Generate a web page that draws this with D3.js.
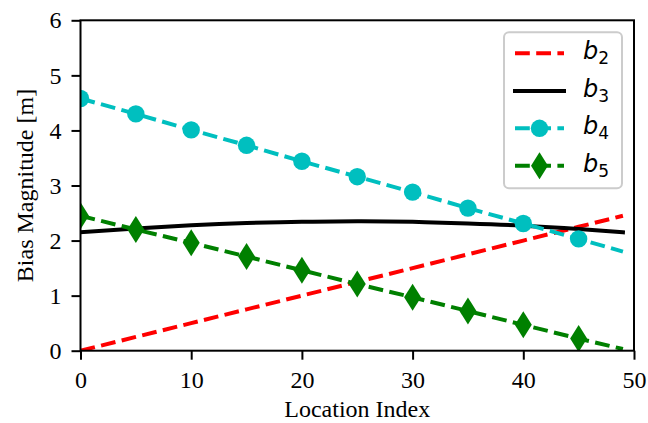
<!DOCTYPE html>
<html>
<head>
<meta charset="utf-8">
<script src="https://cdn.jsdelivr.net/npm/d3@7"></script>
<style>
  html, body { margin: 0; padding: 0; background: #fff; }
  svg { display: block; }
</style>
</head>
<body>
<div id="chart"></div>
<script>
// ---- Data ----
const xAll = [0, 5, 10, 15, 20, 25, 30, 35, 40, 45, 49];
const b2 = [0.00, 0.25, 0.50, 0.75, 1.00, 1.25, 1.50, 1.75, 2.00, 2.25, 2.45];
const b3 = [2.15, 2.22, 2.28, 2.32, 2.34, 2.35, 2.34, 2.31, 2.27, 2.21, 2.15];
const b4 = [4.58, 4.30, 4.01, 3.73, 3.44, 3.16, 2.88, 2.59, 2.31, 2.03, 1.80];
const b5 = [2.45, 2.20, 1.96, 1.71, 1.46, 1.21, 0.97, 0.72, 0.47, 0.22, 0.03];
const markerX = [0, 5, 10, 15, 20, 25, 30, 35, 40, 45];
const xTicks = [0, 10, 20, 30, 40, 50];
const yTicks = [0, 1, 2, 3, 4, 5, 6];
const seriesNames = ["2", "3", "4", "5"];
const xLabel = "Location Index";
const yLabel = "Bias Magnitude [m]";

// ---- Layout ----
const W = 648, H = 423;
const L = 80.5, R = 634, T = 20.3, B = 350.7;
const serif = "'Liberation Serif', 'Times New Roman', serif";
const fs = 24;

const svg = d3.select("#chart").append("svg").attr("width", W).attr("height", H);
const x = d3.scaleLinear().domain([0, 50]).range([L, R]);
const y = d3.scaleLinear().domain([0, 6]).range([B, T]);

svg.append("defs").append("clipPath").attr("id", "clip")
  .append("rect").attr("x", L).attr("y", T).attr("width", R - L).attr("height", B - T);

const plot = svg.append("g").attr("clip-path", "url(#clip)");
const dash = "14.8,6.4";
const lw = 4;

const series = [
  { vals: b2, color: "#ff0000", dash: dash, marker: null, curve: d3.curveLinear },
  { vals: b3, color: "#000000", dash: null, marker: null, curve: d3.curveNatural },
  { vals: b4, color: "#00bfbf", dash: dash, marker: "o", curve: d3.curveLinear },
  { vals: b5, color: "#008000", dash: dash, marker: "d", curve: d3.curveLinear }
];

const circR = 8.7;
const dH = 13.5, dW = 8.5;
function drawMarker(g, type, cx, cy, color) {
  if (type === "o") {
    g.append("circle").attr("cx", cx).attr("cy", cy).attr("r", circR).attr("fill", color);
  } else if (type === "d") {
    g.append("path")
      .attr("d", `M${cx},${cy - dH}L${cx + dW},${cy}L${cx},${cy + dH}L${cx - dW},${cy}Z`)
      .attr("fill", color);
  }
}

series.forEach(s => {
  const line = d3.line().x((d, i) => x(xAll[i])).y(d => y(d)).curve(s.curve);
  plot.append("path").datum(s.vals)
    .attr("d", line)
    .attr("fill", "none")
    .attr("stroke", s.color)
    .attr("stroke-width", lw)
    .attr("stroke-dasharray", s.dash)
    .attr("stroke-linecap", s.dash ? "butt" : "square");
  if (s.marker) {
    markerX.forEach(mx => {
      const i = xAll.indexOf(mx);
      drawMarker(plot, s.marker, x(mx), y(s.vals[i]), s.color);
    });
  }
});

// ---- Axes ----
const xAxis = d3.axisBottom(x).tickValues(xTicks).tickSize(9).tickPadding(0).tickFormat(d3.format("d"));
const yAxis = d3.axisLeft(y).tickValues(yTicks).tickSize(9).tickPadding(10).tickFormat(d3.format("d"));

const gx = svg.append("g").attr("transform", `translate(0,${B})`).call(xAxis);
const gy = svg.append("g").attr("transform", `translate(${L},0)`).call(yAxis);
[gx, gy].forEach(g => {
  g.select(".domain").remove();
  g.selectAll(".tick line").attr("stroke", "#000").attr("stroke-width", 2);
  g.selectAll(".tick text").attr("font-family", serif).attr("font-size", fs).attr("fill", "#000");
});
// x tick labels: baseline at ~388
gx.selectAll(".tick text").attr("y", 37).attr("dy", null);

// spines
svg.append("rect").attr("x", L).attr("y", T).attr("width", R - L).attr("height", B - T)
  .attr("fill", "none").attr("stroke", "#000").attr("stroke-width", 2);

// axis labels
svg.append("text").attr("x", (L + R) / 2).attr("y", 417)
  .attr("text-anchor", "middle").attr("font-family", serif).attr("font-size", fs)
  .text(xLabel);
svg.append("text").attr("transform", `translate(33,${(T + B) / 2}) rotate(-90)`)
  .attr("text-anchor", "middle").attr("font-family", serif).attr("font-size", fs)
  .text(yLabel);

// ---- Legend ----
const lg = svg.append("g");
const lx0 = 504, ly0 = 32.3, lwid = 118, lht = 156;
lg.append("rect").attr("x", lx0).attr("y", ly0).attr("width", lwid).attr("height", lht)
  .attr("rx", 5).attr("fill", "#fff").attr("fill-opacity", 0.8)
  .attr("stroke", "#cccccc").attr("stroke-width", 2);
const rowY = [53.3, 91, 128.3, 165.7];
const hx0 = 515, hx1 = 564;
series.forEach((s, i) => {
  const cy = rowY[i];
  lg.append("line").attr("x1", hx0).attr("x2", hx1).attr("y1", cy).attr("y2", cy)
    .attr("stroke", s.color).attr("stroke-width", lw)
    .attr("stroke-dasharray", s.dash)
    .attr("stroke-linecap", s.dash ? "butt" : "square");
  if (s.marker) drawMarker(lg, s.marker, (hx0 + hx1) / 2, cy, s.color);
  const t = lg.append("text").attr("x", 583).attr("y", cy + 6)
    .attr("font-family", "'DejaVu Sans', sans-serif").attr("font-size", 24).attr("fill", "#000");
  t.append("tspan").attr("font-style", "italic").text("b");
  t.append("tspan").attr("font-size", 17).attr("dy", 5).text(seriesNames[i]);
});
</script>
</body>
</html>
